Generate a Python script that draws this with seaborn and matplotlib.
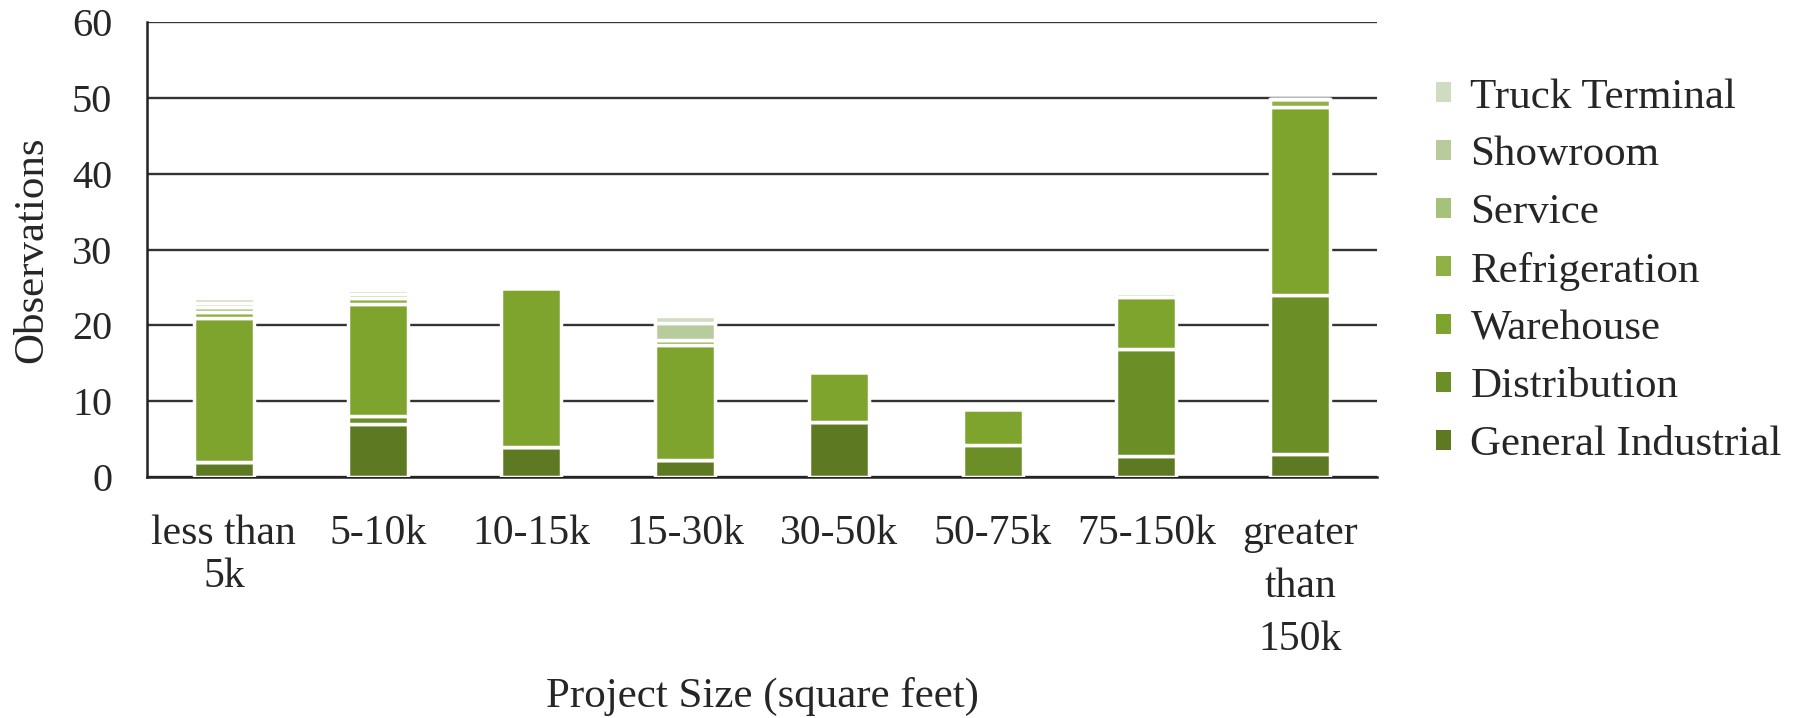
import numpy as np
import pandas as pd
import matplotlib
matplotlib.use("Agg")
import matplotlib.pyplot as plt
import seaborn as sns
from matplotlib.patches import Patch

# Project size classes (x axis)
sizes = ["less than\n5k", "5-10k", "10-15k", "15-30k", "30-50k",
         "50-75k", "75-150k", "greater\nthan\n150k"]

# Observations per building type, stacked bottom to top
general_industrial = [2.0, 7.0, 4.0, 2.2, 7.3, 0.0, 2.8, 3.0]
distribution       = [0.0, 1.0, 0.0, 0.0, 0.0, 4.2, 14.1, 21.0]
warehouse          = [19.0, 14.8, 20.9, 15.2, 6.6, 4.8, 6.9, 24.8]
refrigeration      = [0.7, 0.8, 0.0, 0.7, 0.0, 0.0, 0.5, 1.1]
service            = [0.7, 0.5, 0.0, 0.0, 0.0, 0.0, 0.0, 0.0]
showroom           = [0.6, 0.5, 0.0, 2.2, 0.0, 0.0, 0.0, 0.0]
truck_terminal     = [0.6, 0.0, 0.0, 0.9, 0.0, 0.0, 0.0, 0.0]

types = ["General Industrial", "Distribution", "Warehouse", "Refrigeration",
         "Service", "Showroom", "Truck Terminal"]
series = [general_industrial, distribution, warehouse, refrigeration,
          service, showroom, truck_terminal]
colors = ["#5d7a22", "#6b8e26", "#7ea42e", "#8fb146",
          "#a6c27a", "#b8cb9c", "#cfdcbf"]
palette = dict(zip(types, colors))

rows = []
for t, vals in zip(types, series):
    for s, v in zip(sizes, vals):
        if v > 0:
            rows.append({"size": s, "type": t, "count": v})
df = pd.DataFrame(rows)
df["size"] = pd.Categorical(df["size"], categories=sizes, ordered=True)

sns.set_style("white")
plt.rcParams["font.family"] = ["Liberation Serif", "DejaVu Serif"]

fig = plt.figure(figsize=(17.99, 7.18), dpi=100)
ax = fig.add_axes([147 / 1799, 1 - 477 / 718, 1230 / 1799, 455 / 718])

# histplot stacks the last hue level at the bottom, so feed the order reversed
sns.histplot(data=df, x="size", weights="count", hue="type",
             hue_order=types[::-1], multiple="stack", discrete=True,
             shrink=0.39, palette=palette, edgecolor="white", linewidth=2.5,
             alpha=1, legend=False, ax=ax, zorder=3)

ax.set_xlim(-0.5, 7.5)
ax.set_ylim(0, 60)
ax.set_yticks(np.arange(0, 61, 10))
ax.set_xticks(np.arange(len(sizes)))
ax.set_xticklabels(sizes, fontsize=30, linespacing=1.15)
for lab in ax.get_xticklabels():
    if lab.get_text().startswith("greater"):
        lab.set_linespacing(1.5)
ax.set_xticks(np.arange(-0.5, len(sizes), 1), minor=True)
ax.tick_params(axis="x", which="major", length=0, pad=27)
ax.tick_params(axis="x", which="minor", length=9, width=1.5,
               direction="out", color="#222222")
ax.tick_params(axis="y", length=9, width=1.5, direction="out",
               color="#222222", labelsize=29, pad=16)

ax.yaxis.grid(True, color="#333333", linewidth=1.7)
ax.set_axisbelow(True)
for side in ("top", "right"):
    ax.spines[side].set_visible(False)
for side in ("left", "bottom"):
    ax.spines[side].set_color("#222222")
    ax.spines[side].set_linewidth(1.8)

ax.set_xlabel("Project Size (square feet)", fontsize=31)
ax.xaxis.set_label_coords(0.5, -0.44)
ax.set_ylabel("Observations", fontsize=31)
ax.yaxis.set_label_coords(-0.078, 0.5)

handles = [Patch(facecolor=c, edgecolor="none", label=t)
           for t, c in zip(types, colors)][::-1]
fig.legend(handles=handles, loc="upper left",
           bbox_to_anchor=(1436 / 1799, 1 - 78 / 718),
           frameon=False, fontsize=31, handlelength=0.35, handleheight=0.35,
           handletextpad=0.45, labelspacing=0.45, borderpad=0, borderaxespad=0)

fig.savefig("out.png", dpi=100)
